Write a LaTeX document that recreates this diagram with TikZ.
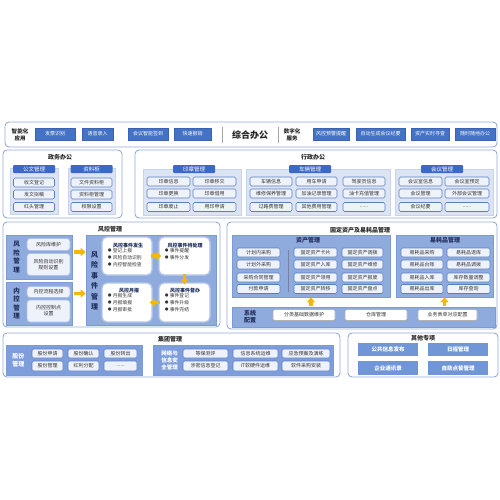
\documentclass[tikz,border=0pt]{standalone}
\usepackage{fontspec}
\setmainfont{Noto Sans CJK SC}
\usetikzlibrary{arrows.meta,positioning}
\definecolor{boxline}{HTML}{94ABD9}
\definecolor{btnblue}{HTML}{4472C4}
\definecolor{btnline}{HTML}{3A62B0}
\definecolor{midblue}{HTML}{8FAADC}
\definecolor{midline}{HTML}{7C9AD3}
\definecolor{lowblue}{HTML}{7E9EDB}
\definecolor{liteblue}{HTML}{DCE4F3}
\definecolor{liteline}{HTML}{C6D4EC}
\definecolor{itemfill}{HTML}{EEF2FA}
\definecolor{itemline}{HTML}{5A7EC6}
\definecolor{softline}{HTML}{AFC3E8}
\definecolor{cardline}{HTML}{B4C7E7}
\definecolor{hdrblue}{HTML}{3A69C6}
\definecolor{itemtext}{HTML}{333333}
\definecolor{titletext}{HTML}{262626}
\definecolor{navytext}{HTML}{1F2F5C}
\definecolor{arrowyellow}{HTML}{F5B700}
\definecolor{otherblue}{HTML}{7096D8}
\newcommand\fsz[2]{\fontsize{#1}{#2}\selectfont}
\newcommand\bul{{\footnotesize$\bullet$}\ }

\begin{document}
\begin{tikzpicture}[
    x=1pt, y=-1pt,
    every node/.style={inner sep=0pt},
    outerbox/.style={draw=boxline, line width=0.9pt, rounded corners=4pt, fill=white},
    btn/.style={fill=btnblue, draw=btnline, line width=0.4pt, text=white, font=\fsz{5}{6}, minimum height=12pt},
    midpanel/.style={fill=midblue, draw=midline, line width=0.6pt},
    lowpanel/.style={fill=lowblue, draw=midline, line width=0.6pt},
    litepanel/.style={fill=liteblue, draw=liteline, line width=0.6pt},
    item/.style={fill=itemfill, draw=itemline, line width=0.6pt, rounded corners=1.5pt, font=\fsz{5}{6},
                 text=itemtext, minimum width=#1, minimum height=9pt, align=center},
    item/.default=43pt,
    softitem/.style={fill=itemfill, draw=softline, line width=0.8pt, rounded corners=3pt, font=\fsz{5}{6.2},
                 text=itemtext, minimum width=43pt, align=center},
    hdr/.style={fill=hdrblue, text=white, font=\fsz{5.5}{6.5}, minimum width=42pt, minimum height=8pt, rounded corners=1pt},
    title/.style={font=\bfseries\fsz{6}{7}, text=titletext},
    vlabel/.style={font=\bfseries\fsz{6.5}{8.5}, text=navytext, align=center},
    wlabel/.style={font=\bfseries\fsz{6}{7.5}, text=white, align=center},
    card/.style={fill=white, draw=cardline, line width=1.3pt, rounded corners=5pt},
    cardtitle/.style={font=\bfseries\fsz{5}{6}, text=navytext},
    bullets/.style={font=\fsz{4.8}{7}, text=itemtext, align=left, anchor=north west},
    otherbtn/.style={fill=otherblue, text=white, font=\bfseries\fsz{5.5}{6.5}, minimum width=60pt, minimum height=13.5pt},
    yarrow/.style={-{Triangle[width=8pt,length=5pt]}, line width=3.6pt, draw=arrowyellow},
    sepline/.style={draw=gray!70, line width=0.7pt}
]
\useasboundingbox (0,0) rectangle (500,500);

% top bar
\node[outerbox, minimum width=492pt, minimum height=25pt] (topbar) at (251,134.5) {};
\node[title, align=center, font=\bfseries\fsz{5.5}{6.5}] (smartlbl) at (20,135) {智能化\\应用};
\node[btn, minimum width=40pt] (sm1) at (55,134) {发票识别};
\node[btn, minimum width=31pt] (sm2) at (97.5,134) {语音录入};
\node[btn, minimum width=40pt] (sm3) at (148,134) {会议智能签到};
\node[btn, minimum width=37pt] (sm4) at (192.5,134) {快速报销};
\draw[sepline] (222,127) -- (222,143);
\node[font=\bfseries\fsz{9}{10}, text=titletext] (zhbg) at (250,135) {综合办公};
\draw[sepline] (278,127) -- (278,143);
\node[title, align=center, font=\bfseries\fsz{5.5}{6.5}] (digilbl) at (292,135) {数字化\\服务};
\node[btn, minimum width=36pt] (dg1) at (331,134) {风控预警提醒};
\node[btn, minimum width=49pt] (dg2) at (380.5,134) {自动生成会议纪要};
\node[btn, minimum width=38pt] (dg3) at (430,134) {资产实时寻查};
\node[btn, minimum width=40pt] (dg4) at (475,134) {随时随地办公};

% 政务办公
\node[outerbox, minimum width=119pt, minimum height=68pt] (zwbox) at (62.5,184) {};
\node[title] (zwtitle) at (60,157) {政务办公};
\node[litepanel, minimum width=48pt, minimum height=46pt] (gwpanel) at (34,191) {};
\node[hdr] (gwhdr) at (34,169) {公文管理};
\node[item=41pt] (gw1) at (34,182.5) {收文登记};
\node[item=41pt] (gw2) at (34,194.5) {发文拟稿};
\node[item=41pt] (gw3) at (34,207) {红头管理};
\node[litepanel, minimum width=47pt, minimum height=46pt] (zlpanel) at (91.5,191) {};
\node[hdr] (zlhdr) at (91.5,169) {资料柜};
\node[item=41pt] (zl1) at (91.5,182.5) {文件资料柜};
\node[item=41pt] (zl2) at (91.5,194.5) {资料柜管理};
\node[item=41pt] (zl3) at (91.5,207) {权限设置};

% 行政办公
\node[outerbox, minimum width=362pt, minimum height=68pt] (xzbox) at (316,184) {};
\node[title] (xztitle) at (313,157) {行政办公};
\node[litepanel, minimum width=98pt, minimum height=46pt] (yzpanel) at (192,192) {};
\node[hdr] (yzhdr) at (194,169) {印章管理};
\node[item] (yz1) at (168.5,181.5) {印章信息};
\node[item] (yz2) at (214.5,181.5) {印章移交};
\node[item] (yz3) at (168.5,193.5) {印章更换};
\node[item] (yz4) at (214.5,193.5) {印章借用};
\node[item] (yz5) at (168.5,207) {印章废止};
\node[item] (yz6) at (214.5,207) {用印申请};
\node[litepanel, minimum width=144pt, minimum height=46pt] (clpanel) at (318,192) {};
\node[hdr] (clhdr) at (310,169) {车辆管理};
\node[item=42pt] (cl1) at (271,181.5) {车辆信息};
\node[item=41pt] (cl2) at (316.5,181.5) {用车申请};
\node[item=42pt] (cl3) at (364,181.5) {驾驶员信息};
\node[item=42pt] (cl4) at (271,193.5) {维修保养管理};
\node[item=41pt] (cl5) at (316.5,193.5) {加油记录管理};
\node[item=42pt] (cl6) at (364,193.5) {油卡充值管理};
\node[item=42pt] (cl7) at (271,207) {过路费管理};
\node[item=41pt] (cl8) at (316.5,207) {其他费用管理};
\node[item=42pt] (cl9) at (364,207) {......};
\node[litepanel, minimum width=98pt, minimum height=46pt] (hypanel) at (444,192) {};
\node[hdr] (hyhdr) at (442,169) {会议管理};
\node[item] (hy1) at (420.5,181.5) {会议室信息};
\node[item=44pt] (hy2) at (467,181.5) {会议室预定};
\node[item] (hy3) at (420.5,193.5) {会议管理};
\node[item=44pt] (hy4) at (467,193.5) {外部会议管理};
\node[item] (hy5) at (420.5,207) {会议纪要};
\node[item=44pt] (hy6) at (467,207) {......};

% 风控管理
\node[outerbox, minimum width=217pt, minimum height=105pt] (fkbox) at (111.5,274.5) {};
\node[title] (fktitle) at (110,229) {风控管理};
\node[midpanel, minimum width=66pt, minimum height=44pt] (fxpanel) at (39,257) {};
\node[vlabel] (fxlbl) at (16.5,257) {风\\险\\管\\理};
\node[softitem, minimum height=12pt] (fx1) at (48.5,244.5) {风险库维护};
\node[softitem, minimum height=22pt] (fx2) at (48.5,264.5) {风险自动识别\\规则设置};
\node[midpanel, minimum width=66pt, minimum height=43pt] (nkpanel) at (39,303.5) {};
\node[vlabel] (nklbl) at (16.5,303.5) {内\\控\\管\\理};
\node[softitem, minimum height=11pt] (nk1) at (48.5,292) {内控流程选择};
\node[softitem, minimum height=22pt] (nk2) at (48.5,311) {内控控制点\\设置};
\node[midpanel, minimum width=130pt, minimum height=90pt] (sjpanel) at (151,280) {};
\node[vlabel, font=\bfseries\fsz{7}{10.5}] (sjlbl) at (94.5,281) {风\\险\\事\\件\\管\\理};
\node[card, minimum width=50pt, minimum height=38pt] (c1) at (127,256) {};
\node[cardtitle] (c1t) at (128,245.5) {风控事件发生};
\node[bullets] (c1l) at ([shift={(6pt,-11.5pt)}]c1.north west) {\bul 登记上报\\\bul 风险自动识别\\\bul 内控智能检查};
\node[card, minimum width=51pt, minimum height=38pt] (c2) at (184.5,256) {};
\node[cardtitle] (c2t) at (185,245.5) {风控事件待处理};
\node[bullets] (c2l) at ([shift={(6pt,-11.5pt)}]c2.north west) {\bul 事件提醒\\\bul 事件分发};
\node[card, minimum width=51pt, minimum height=39pt] (c3) at (184.5,302.5) {};
\node[cardtitle] (c3t) at (185,291) {风控事件督办};
\node[bullets] (c3l) at ([shift={(6pt,-11pt)}]c3.north west) {\bul 事件登记\\\bul 事件升级\\\bul 事件完结};
\node[card, minimum width=50pt, minimum height=39pt] (c4) at (127,302.5) {};
\node[cardtitle] (c4t) at (129,291) {风控月报};
\node[bullets] (c4l) at ([shift={(6pt,-11pt)}]c4.north west) {\bul 月报生成\\\bul 月报填报\\\bul 月报审批};
\draw[yarrow, shorten <=1.5pt] ([yshift=5pt]fxpanel.east) -- ([yshift=5pt]fxpanel.east -| sjpanel.west);
\draw[yarrow, shorten <=1.5pt] ([yshift=10pt]nkpanel.east) -- ([yshift=10pt]nkpanel.east -| sjpanel.west);
\draw[yarrow, shorten <=-2pt, shorten >=-3pt] (c1.east) -- (c2.west);
\draw[yarrow, shorten <=-2pt, shorten >=-2pt] (c2.south) -- (c3.north);
\draw[yarrow, shorten <=-2pt, shorten >=-3pt] (c3.west) -- (c4.east);

% 固定资产及易耗品管理
\node[outerbox, minimum width=270pt, minimum height=107pt] (gdbox) at (362,275.5) {};
\node[title] (gdtitle) at (360,230) {固定资产及易耗品管理};
\node[midpanel, minimum width=158pt, minimum height=62pt] (zcpanel) at (311,266) {};
\node[title, text=navytext] (zctitle) at (308,240.5) {资产管理};
\node[item] (zc1) at (258.5,252.5) {计划内采购};
\node[item] (zc2) at (258.5,264.5) {计划外采购};
\node[item] (zc3) at (258.5,277.5) {采购合同管理};
\node[item] (zc4) at (258.5,289) {付款申请};
\draw[sepline, draw=navytext!60] (288,250) -- (288,292);
\node[item] (zc5) at (315.5,252.5) {固定资产卡片};
\node[item] (zc6) at (315.5,264.5) {固定资产入库};
\node[item] (zc7) at (315.5,277.5) {固定资产领用};
\node[item] (zc8) at (315.5,289) {固定资产转移};
\node[item=41pt] (zc9) at (362.5,252.5) {固定资产调拨};
\node[item=41pt] (zc10) at (362.5,264.5) {固定资产维修};
\node[item=41pt] (zc11) at (362.5,277.5) {固定资产报废};
\node[item=41pt] (zc12) at (362.5,289) {固定资产盘点};
\node[midpanel, minimum width=97pt, minimum height=62pt] (yhpanel) at (444.5,266) {};
\node[title, text=navytext] (yhtitle) at (445,240.5) {易耗品管理};
\node[item=42pt] (yh1) at (422,252.5) {易耗品采购};
\node[item] (yh2) at (468.5,252.5) {易耗品退库};
\node[item=42pt] (yh3) at (422,264.5) {易耗品台账};
\node[item] (yh4) at (468.5,264.5) {易耗品调拨};
\node[item=42pt] (yh5) at (422,277.5) {易耗品入库};
\node[item] (yh6) at (468.5,277.5) {库存数量调整};
\node[item=42pt] (yh7) at (422,289) {易耗品出库};
\node[item] (yh8) at (468.5,289) {库存查询};
\node[midpanel, minimum width=263pt, minimum height=20pt] (xtpanel) at (363.5,317) {};
\node[vlabel, font=\bfseries\fsz{6}{7.5}] (xtlbl) at (250,316.5) {系统\\配置};
\node[item=62pt, minimum height=11pt, draw=gray!60, fill=white] (xt1) at (304,315) {分类基础数据维护};
\node[item=62pt, minimum height=11pt, draw=gray!60, fill=white] (xt2) at (376,315) {仓库管理};
\node[item=59pt, minimum height=11pt, draw=gray!60, fill=white] (xt3) at (447.5,315) {业务表单对应配置};
\draw[yarrow, shorten <=0.5pt] (xtpanel.north -| zcpanel.south) -- (zcpanel.south);
\draw[yarrow, shorten <=0.5pt] (xtpanel.north -| yhpanel.south) -- (yhpanel.south);

% 集团管理
\node[outerbox, minimum width=337pt, minimum height=44pt] (jtbox) at (171.5,355) {};
\node[title] (jttitle) at (170,339.5) {集团管理};
\node[lowpanel, minimum width=136pt, minimum height=30pt] (gfpanel) at (74,360) {};
\node[wlabel] (gflbl) at (18.5,360) {股份\\管理};
\node[item=31pt] (gf1) at (47.5,353.5) {股份申请};
\node[item=31pt] (gf2) at (83.5,353.5) {股份确认};
\node[item=33pt] (gf3) at (120.5,353.5) {股份转出};
\node[item=31pt, minimum height=10pt] (gf4) at (47.5,366) {股份管理};
\node[item=31pt, minimum height=10pt] (gf5) at (83.5,366) {红利分配};
\node[item=33pt, minimum height=10pt] (gf6) at (120.5,366) {......};
\node[lowpanel, minimum width=180pt, minimum height=30pt] (wlpanel) at (243,360) {};
\node[wlabel, font=\bfseries\fsz{5.5}{7}] (wllbl) at (169.5,360) {网络与\\信息安\\全管理};
\node[item=45pt] (wl1) at (205.5,353.5) {等保测评};
\node[item=45pt] (wl2) at (255.5,353.5) {信息系统运维};
\node[item=48pt] (wl3) at (306,353.5) {应急预案及演练};
\node[item=45pt, minimum height=10pt] (wl4) at (205.5,366) {涉密信息登记};
\node[item=45pt, minimum height=10pt] (wl5) at (255.5,366) {IT软硬件运维};
\node[item=48pt, minimum height=10pt] (wl6) at (306,366) {软件采购安装};

% 其他专项
\node[outerbox, minimum width=150pt, minimum height=44pt] (qtbox) at (423,355) {};
\node[title] (qttitle) at (423,338.5) {其他专项};
\node[otherbtn] (qt1) at (388,349.5) {公共信息发布};
\node[otherbtn] (qt2) at (458,349.5) {日程管理};
\node[otherbtn] (qt3) at (388,368) {企业通讯录};
\node[otherbtn] (qt4) at (458,368) {自助点餐管理};

\end{tikzpicture}
\end{document}
